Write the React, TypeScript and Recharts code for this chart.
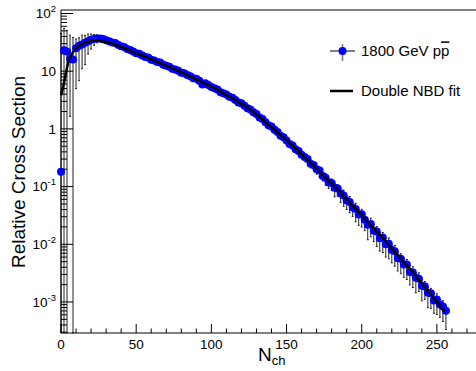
import React from "react";
import {
  ComposedChart,
  LineChart,
  Scatter,
  Line,
  XAxis,
  YAxis,
  ErrorBar,
  ReferenceLine,
} from "recharts";

const FONT = '"Liberation Sans", Arial, Helvetica, sans-serif';
const W = 476;
const H = 371;
const Y_MIN = 2.9e-4;
const Y_MAX = 115;
const X_MAX = 276;

// charged multiplicity bins
const nch = [
  0, 2, 4, 6, 8, 10, 12, 14, 16, 18,
  20, 22, 24, 26, 28, 30, 32, 34, 36, 38,
  40, 42, 44, 46, 48, 50, 52, 54, 56, 58,
  60, 62, 64, 66, 68, 70, 72, 74, 76, 78,
  80, 82, 84, 86, 88, 90, 92, 94, 96, 98,
  100, 102, 104, 106, 108, 110, 112, 114, 116, 118,
  120, 122, 124, 126, 128, 130, 132, 134, 136, 138,
  140, 142, 144, 146, 148, 150, 152, 154, 156, 158,
  160, 162, 164, 166, 168, 170, 172, 174, 176, 178,
  180, 182, 184, 186, 188, 190, 192, 194, 196, 198,
  200, 202, 204, 206, 208, 210, 212, 214, 216, 218,
  220, 222, 224, 226, 228, 230, 232, 234, 236, 238,
  240, 242, 244, 246, 248, 250, 252, 254, 256,
];

// 1800 GeV p-pbar relative cross section
const crossSection = [
  0.18, 23, 22, 16.5, 16, 25, 27.5, 29, 31, 33,
  35, 36, 37, 37, 36, 34.3, 33.2, 31.4, 30.7, 28.8,
  27.2, 26.2, 24.3, 23.4, 22.0, 20.4, 20.0, 18.8, 17.7, 17.3,
  15.8, 15.4, 14.5, 14.1, 12.9, 12.4, 12.0, 11.0, 10.7, 10.2,
  9.44, 9.25, 8.55, 8.18, 7.57, 7.41, 6.82, 5.9, 6.19, 5.77,
  5.31, 5.04, 4.83, 4.33, 4.15, 3.94, 3.59, 3.47, 3.16, 2.86,
  2.79, 2.52, 2.28, 2.16, 1.95, 1.82, 1.57, 1.49, 1.31, 1.16,
  1.1, 0.964, 0.887, 0.762, 0.718, 0.631, 0.546, 0.518, 0.443, 0.415,
  0.355, 0.325, 0.301, 0.248, 0.236, 0.2, 0.19, 0.153, 0.143, 0.118,
  0.115, 0.0951, 0.0925, 0.0762, 0.0702, 0.0575, 0.0542, 0.0435, 0.0409, 0.0328,
  0.0331, 0.0265, 0.0218, 0.0225, 0.0172, 0.0166, 0.0127, 0.0131, 0.01, 0.0102,
  0.00794, 0.00759, 0.00575, 0.00562, 0.00447, 0.00447, 0.00331, 0.00324, 0.00262, 0.00254,
  0.00191, 0.00185, 0.00145, 0.00141, 0.00106, 0.0011, 0.000904, 0.000836, 0.000708,
];

// relative errors (down / up)
const errLowFrac = [
  1, 1, 1, 0.9, 1, 0.8, 0.75, 0.62, 0.58, 0.4,
  0.31, 0.22, 0.16, 0.12, 0.1, 0.08, 0.07, 0.06, 0.06, 0.05,
  0.05, 0.05, 0.05, 0.05, 0.05, 0.05, 0.05, 0.05, 0.05, 0.05,
  0.05, 0.05, 0.05, 0.05, 0.05, 0.05, 0.05, 0.05, 0.05, 0.05,
  0.05, 0.05, 0.05, 0.05, 0.05, 0.05, 0.05, 0.05, 0.05, 0.05,
  0.05, 0.05, 0.05, 0.05, 0.05, 0.05, 0.05, 0.05, 0.05, 0.05,
  0.05, 0.05, 0.05, 0.05, 0.05, 0.05, 0.05, 0.05, 0.05, 0.05,
  0.05, 0.05, 0.06, 0.06, 0.06, 0.07, 0.07, 0.08, 0.08, 0.09,
  0.1, 0.12, 0.1, 0.15, 0.12, 0.18, 0.22, 0.18, 0.26, 0.22,
  0.26, 0.3, 0.26, 0.3, 0.35, 0.3, 0.35, 0.3, 0.4, 0.35,
  0.4, 0.35, 0.45, 0.4, 0.35, 0.45, 0.4, 0.45, 0.4, 0.45,
  0.4, 0.45, 0.4, 0.45, 0.4, 0.45, 0.4, 0.45, 0.45, 0.4,
  0.45, 0.4, 0.45, 0.45, 0.4, 0.45, 0.4, 0.45, 0.53,
];

const errHighFrac = [
  250, 1.4, 1.3, 1.55, 1.4, 0.44, 0.38, 0.45, 0.35, 0.33,
  0.26, 0.2, 0.15, 0.12, 0.1, 0.08, 0.07, 0.06, 0.06, 0.05,
  0.05, 0.05, 0.05, 0.05, 0.05, 0.05, 0.05, 0.05, 0.05, 0.05,
  0.05, 0.05, 0.05, 0.05, 0.05, 0.05, 0.05, 0.05, 0.05, 0.05,
  0.05, 0.05, 0.05, 0.05, 0.05, 0.05, 0.05, 0.05, 0.05, 0.05,
  0.05, 0.05, 0.05, 0.05, 0.05, 0.05, 0.05, 0.05, 0.05, 0.05,
  0.05, 0.05, 0.05, 0.05, 0.05, 0.05, 0.05, 0.05, 0.05, 0.05,
  0.05, 0.05, 0.06, 0.06, 0.06, 0.07, 0.07, 0.08, 0.08, 0.09,
  0.08, 0.1, 0.08, 0.12, 0.1, 0.12, 0.15, 0.12, 0.18, 0.15,
  0.18, 0.2, 0.16, 0.2, 0.24, 0.2, 0.24, 0.2, 0.26, 0.22,
  0.22, 0.26, 0.22, 0.26, 0.28, 0.22, 0.26, 0.22, 0.28, 0.26,
  0.22, 0.26, 0.28, 0.22, 0.26, 0.22, 0.28, 0.26, 0.22, 0.26,
  0.28, 0.22, 0.26, 0.22, 0.28, 0.26, 0.22, 0.26, 0.2,
];

// double NBD fit curve
const fitN = [
  0, 1, 2, 3, 4, 5, 6, 8,
  10, 12, 14, 16, 18, 20, 22, 24, 26, 28, 30,
  35, 40, 45, 50, 55, 60, 65, 70, 75, 80,
  85, 90, 95, 100, 105, 110, 115, 120, 125, 130,
  135, 140, 145, 150, 155, 160, 165, 170, 175, 180,
  185, 190, 195, 200, 205, 210, 215, 220, 225, 230,
  235, 240, 245, 250, 255,
];
const fitValue = [
  3.8, 4.79, 6.31, 8.51, 11.5, 14.8, 17.4, 21.4,
  24.8, 27.5, 29.5, 30.9, 32.4, 33.5, 33.9, 33.9, 33.5, 32.7, 32.0,
  29.5, 26.3, 23.2, 20.4, 18.2, 16.0, 14.1, 12.4, 11.0, 9.55,
  8.32, 7.24, 6.24, 5.37, 4.57, 3.89, 3.27, 2.72, 2.24, 1.78,
  1.38, 1.07, 0.822, 0.631, 0.479, 0.363, 0.275, 0.204, 0.151, 0.112,
  0.0832, 0.0603, 0.0437, 0.0316, 0.0229, 0.0166, 0.012, 0.00851, 0.00603, 0.00427,
  0.00302, 0.00209, 0.00145, 0.001, 0.00069,
];

const xTicks = [
  0, 10, 20, 30, 40, 50, 60, 70, 80, 90, 100, 110, 120, 130,
  140, 150, 160, 170, 180, 190, 200, 210, 220, 230, 240, 250, 260, 270,
];
const xMajor = [0, 50, 100, 150, 200, 250];

const yMajorTicks = [1e-3, 1e-2, 1e-1, 1, 10, 100];
const yTickLabels = [
  { base: "10", exp: "-3" },
  { base: "10", exp: "-2" },
  { base: "10", exp: "-1" },
  { base: "1", exp: "" },
  { base: "10", exp: "" },
  { base: "10", exp: "2" },
];

const yTicks: number[] = [];
[1e-4, 1e-3, 1e-2, 1e-1, 1, 10, 100].forEach((d) => {
  for (let m = 1; m <= 9; m++) {
    const v = m * d;
    if (v >= Y_MIN && v <= Y_MAX) yTicks.push(v);
  }
});

const points = nch.map((n, i) => {
  const v = crossSection[i];
  const lo = Math.min(v * errLowFrac[i], v - Y_MIN * 1.01);
  const hi = v * errHighFrac[i];
  return { n, v, err: [lo, hi] };
});

const fitData = fitN.map((n, i) => ({ n, fit: fitValue[i] }));

const XTick = (props: any) => {
  const { x, y, payload } = props;
  const v = payload.value;
  const major = xMajor.includes(v);
  return (
    <g>
      <line x1={x} y1={y} x2={x} y2={y - (major ? 9 : 4.5)} stroke="#000" />
      {major && (
        <text
          x={x}
          y={y + 16}
          textAnchor="middle"
          fontSize={13.5}
          fontFamily={FONT}
          fill="#000"
        >
          {v}
        </text>
      )}
    </g>
  );
};

const YTick = (props: any) => {
  const { x, y, payload } = props;
  const v = payload.value;
  const idx = yMajorTicks.findIndex((t) => Math.abs(t - v) / t < 1e-6);
  const major = idx >= 0;
  const lab = major ? yTickLabels[idx] : null;
  return (
    <g>
      <line x1={x} y1={y} x2={x + (major ? 12 : 6)} y2={y} stroke="#000" />
      {lab && (
        <text
          x={x - 5}
          y={y}
          dy="0.36em"
          textAnchor="end"
          fontSize={13.5}
          fontFamily={FONT}
          fill="#000"
        >
          {lab.base}
          {lab.exp && (
            <tspan fontSize={9.5} dy={-6}>
              {lab.exp}
            </tspan>
          )}
        </text>
      )}
    </g>
  );
};

const Dot = (props: any) => {
  const { cx, cy } = props;
  if (cx == null || cy == null) return null;
  return <circle cx={cx} cy={cy} r={4} fill="#0000ff" />;
};

const chartMargin = { top: 10, right: 0, bottom: 0, left: 0 };

export default function App() {
  return (
    <div
      style={{
        position: "absolute",
        left: 0,
        top: 0,
        width: W,
        height: H,
        background: "#fff",
      }}
    >
      <ComposedChart width={W} height={H} margin={chartMargin}>
        <XAxis
          dataKey="n"
          type="number"
          domain={[0, X_MAX]}
          ticks={xTicks}
          interval={0}
          tickSize={0}
          tickMargin={0}
          tickLine={false}
          tick={(p: any) => <XTick {...p} />}
          axisLine={{ stroke: "#000" }}
          height={38}
        />
        <YAxis
          type="number"
          scale="log"
          domain={[Y_MIN, Y_MAX]}
          ticks={yTicks}
          interval={0}
          tickSize={0}
          tickMargin={0}
          tickLine={false}
          tick={(p: any) => <YTick {...p} />}
          axisLine={{ stroke: "#000" }}
          width={61}
        />
        <ReferenceLine y={Y_MAX} stroke="#000" strokeWidth={1} />
        <Scatter
          data={points}
          dataKey="v"
          shape={<Dot />}
          isAnimationActive={false}
        >
          <ErrorBar
            dataKey="err"
            direction="y"
            width={1}
            stroke="#222"
            strokeWidth={1}
          />
        </Scatter>
      </ComposedChart>

      {/* fit curve drawn on top of the markers, same axes */}
      <div style={{ position: "absolute", left: 0, top: 0 }}>
        <LineChart width={W} height={H} margin={chartMargin} data={fitData}>
          <XAxis
            dataKey="n"
            type="number"
            domain={[0, X_MAX]}
            ticks={xTicks}
            tick={false}
            tickLine={false}
            axisLine={false}
            height={38}
          />
          <YAxis
            type="number"
            scale="log"
            domain={[Y_MIN, Y_MAX]}
            ticks={yTicks}
            tick={false}
            tickLine={false}
            axisLine={false}
            width={61}
          />
          <Line
            dataKey="fit"
            type="monotone"
            stroke="#000"
            strokeWidth={2.5}
            dot={false}
            isAnimationActive={false}
          />
        </LineChart>
      </div>

      <svg
        width={W}
        height={H}
        style={{ position: "absolute", left: 0, top: 0, pointerEvents: "none" }}
      >
        {/* legend */}
        <line x1={342.5} y1={44} x2={342.5} y2={61} stroke="#777" strokeWidth={1.5} />
        <line x1={330} y1={51} x2={355} y2={51} stroke="#000" strokeWidth={1} />
        <circle cx={342.5} cy={51} r={4} fill="#0000ff" />
        <text x={361} y={51} dy="0.36em" fontSize={15} fontFamily={FONT} fill="#000">
          1800 GeV p
          <tspan style={{ textDecoration: "overline" }}>p</tspan>
        </text>
        <line x1={330} y1={91} x2={353} y2={91} stroke="#000" strokeWidth={2.5} />
        <text x={361} y={91} dy="0.36em" fontSize={15} fontFamily={FONT} fill="#000">
          Double NBD fit
        </text>
        {/* axis titles */}
        <text
          x={25}
          y={172}
          transform="rotate(-90 25 172)"
          textAnchor="middle"
          fontSize={19}
          fontFamily={FONT}
          fill="#000"
        >
          Relative Cross Section
        </text>
        <text x={258} y={361} fontSize={19} fontFamily={FONT} fill="#000">
          N
          <tspan fontSize={13} dy={4}>
            ch
          </tspan>
        </text>
      </svg>
    </div>
  );
}
